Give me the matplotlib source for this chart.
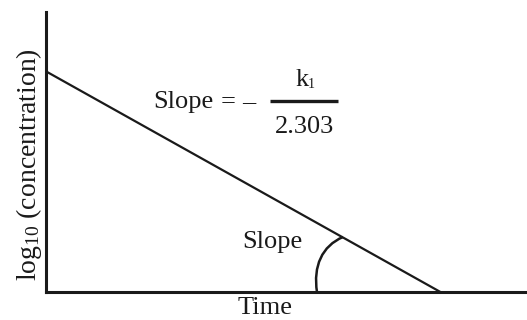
import matplotlib
matplotlib.use("Agg")
import matplotlib.pyplot as plt
from matplotlib.path import Path
from matplotlib.patches import PathPatch

plt.rcParams['font.family'] = ['Liberation Serif', 'DejaVu Serif']
plt.rcParams['mathtext.fontset'] = 'custom'
plt.rcParams['mathtext.rm'] = 'Liberation Serif'
plt.rcParams['mathtext.it'] = 'Liberation Serif'

# first-order decay: log10(concentration) falls linearly with time
time = [0.0, 8.2]
log_conc = [7.88, 0.0]

FS = 19
INK = '#1a1a1a'
W, H = 527, 320
fig = plt.figure(figsize=(W / 100, H / 100), dpi=100)
# axes box in pixels: left 46, right 527, top 12, bottom 292
left, right, top, bottom = 46, 527, 12, 292
ax = fig.add_axes([left / W, 1 - bottom / H, (right - left) / W, (bottom - top) / H])
ax.set_xlim(0, 10)
ax.set_ylim(0, 10)

ax.plot(time, log_conc, color=INK, lw=1.6, solid_capstyle='butt')

for s in ('top', 'right'):
    ax.spines[s].set_visible(False)
for s in ('left', 'bottom'):
    ax.spines[s].set_linewidth(2.2)
    ax.spines[s].set_color(INK)
ax.set_xticks([])
ax.set_yticks([])


def to_axes(px, py):
    return ((px - left) / (right - left), (bottom - py) / (bottom - top))


def label(px, py, s, ha='left', size=FS, **kw):
    ax.text(*to_axes(px, py), s, transform=ax.transAxes, fontsize=size,
            ha=ha, va='baseline', color=INK, clip_on=False, **kw)


# axis titles
label(265, 314, 'Time', ha='center')
ax.text(*to_axes(36, 165), r'log$_{\mathregular{10}}$ (concentration)',
        transform=ax.transAxes, fontsize=20, rotation=90, ha='center',
        va='baseline', color=INK, clip_on=False, rotation_mode='anchor')

# angle marker between the line and the time axis
pts = [to_axes(317, 292), to_axes(313, 266), to_axes(322, 246), to_axes(343, 237)]
arc = PathPatch(Path(pts, [Path.MOVETO, Path.CURVE4, Path.CURVE4, Path.CURVE4]),
                transform=ax.transAxes, fill=False, lw=1.8, edgecolor=INK)
ax.add_patch(arc)

label(242, 248, 'Slope')

# slope expression: Slope = - k1 / 2.303
label(153, 108, 'Slope')
label(221, 108, '=')
label(242, 108, '\u2013')
label(296, 86, 'k')
label(308, 88, '1', size=10)
ax.plot([to_axes(270, 0)[0], to_axes(338, 0)[0]], [to_axes(0, 100.5)[1]] * 2,
        transform=ax.transAxes, color=INK, lw=2.4, solid_capstyle='butt')
label(305, 133, '2.303', ha='center')

fig.savefig('out.png', dpi=100)
